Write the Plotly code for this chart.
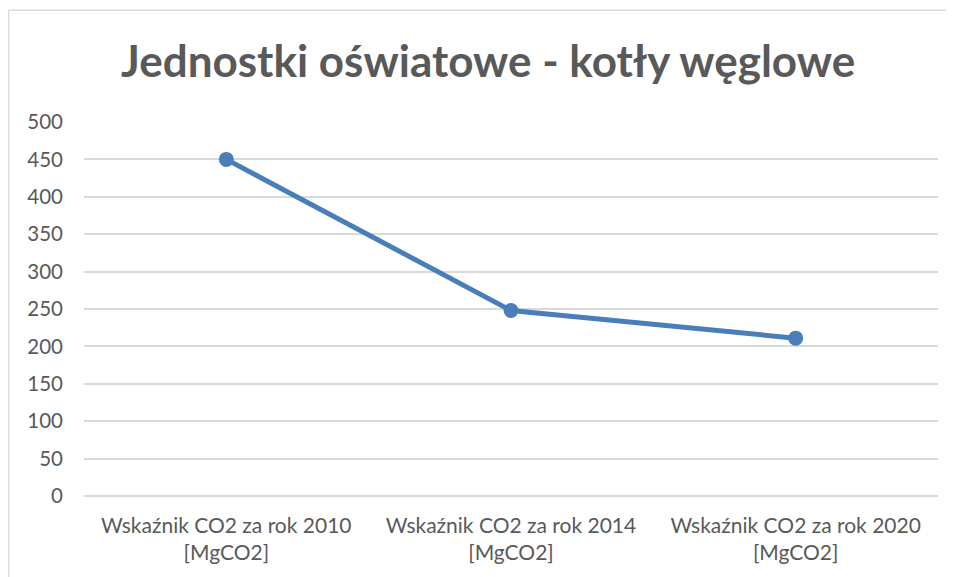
import plotly.graph_objects as go

categories = ["Wskaźnik CO2 za rok 2010<br>[MgCO2]",
              "Wskaźnik CO2 za rok 2014<br>[MgCO2]",
              "Wskaźnik CO2 za rok 2020<br>[MgCO2]"]
values = [450, 248, 211]
y_ticks = [0, 50, 100, 150, 200, 250, 300, 350, 400, 450, 500]
title_text = "Jednostki oświatowe - kotły węglowe"

fig = go.Figure()
fig.add_trace(go.Scatter(
    x=categories, y=values, mode="lines+markers",
    line=dict(color="#4A7EBB", width=5),
    marker=dict(size=15, color="#4A7EBB"),
    showlegend=False,
))

border = dict(color="#D9D9D9", width=1.5)
fig.update_layout(
    width=946, height=569,
    margin=dict(l=76, r=16, t=114, b=81, autoexpand=False),
    paper_bgcolor="white", plot_bgcolor="white",
    font=dict(family="Lato", color="#595959", size=21),
    title=dict(text="<b>" + title_text + "</b>", x=0.5075, xanchor="center",
               y=0.905, yanchor="middle",
               font=dict(family="Lato", size=44, color="#595959")),
    xaxis=dict(showgrid=False, showline=False, zeroline=False, automargin=False,
               range=[-0.5, 2.5], ticks="", ticklabelstandoff=15,
               tickfont=dict(size=21, color="#595959")),
    yaxis=dict(range=[0, 500], tickvals=y_ticks, showgrid=True, automargin=False,
               gridcolor="#D9D9D9", gridwidth=1.5, zeroline=True,
               zerolinecolor="#D9D9D9", zerolinewidth=1.5, showline=False,
               ticks="", ticklabelstandoff=20,
               tickfont=dict(size=20.5, color="#595959")),
    shapes=[
        dict(type="line", xref="paper", yref="paper",
             x0=-0.0884, x1=-0.0884, y0=-0.3, y1=1.2985, line=border),
        dict(type="line", xref="paper", yref="paper",
             x0=-0.0884, x1=1.2, y0=1.2985, y1=1.2985, line=border),
    ],
)

fig.write_html("out.html")
